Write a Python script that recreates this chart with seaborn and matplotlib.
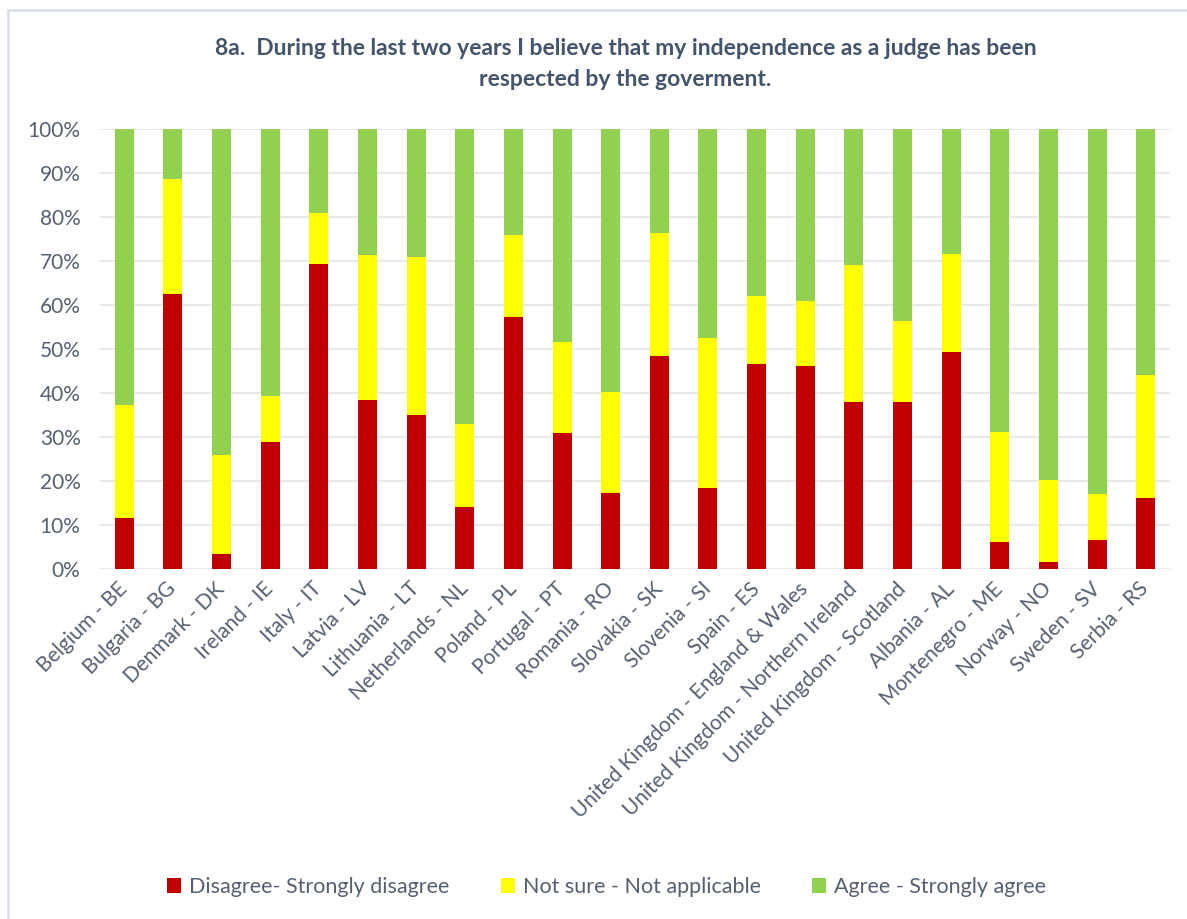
import numpy as np
import pandas as pd
import matplotlib
matplotlib.use("Agg")
import matplotlib.pyplot as plt
from matplotlib.lines import Line2D
from matplotlib.patches import Patch
import seaborn as sns

countries = ["Belgium - BE", "Bulgaria - BG", "Denmark - DK", "Ireland - IE", "Italy - IT",
             "Latvia - LV", "Lithuania - LT", "Netherlands - NL", "Poland - PL", "Portugal - PT",
             "Romania - RO", "Slovakia - SK", "Slovenia - SI", "Spain - ES",
             "United Kingdom - England & Wales", "United Kingdom - Northern Ireland",
             "United Kingdom - Scotland", "Albania - AL", "Montenegro - ME", "Norway - NO",
             "Sweden - SV", "Serbia - RS"]
disagree = [11.7, 62.4, 3.3, 28.9, 69.4, 38.3, 35.1, 14.1, 57.2, 31.0, 17.3, 48.4, 18.4, 46.7,
            46.1, 38.0, 38.0, 49.3, 6.1, 1.6, 6.7, 16.1]
not_sure = [25.6, 26.2, 22.7, 10.5, 11.4, 33.1, 35.7, 18.9, 18.6, 20.7, 22.9, 28.0, 34.1, 15.4,
            14.8, 31.1, 18.3, 22.4, 25.1, 18.6, 10.3, 28.0]
agree = [100 - d - n for d, n in zip(disagree, not_sure)]

series_names = ["Disagree- Strongly disagree", "Not sure - Not applicable", "Agree - Strongly agree"]
colors = ["#C00000", "#FFFF00", "#92D050"]

df = pd.DataFrame({"country": countries, "disagree": disagree, "not_sure": not_sure, "agree": agree})
df["lvl1"] = df["disagree"]
df["lvl2"] = df["disagree"] + df["not_sure"]
df["lvl3"] = df["lvl2"] + df["agree"]

sns.set_theme(style="white")
plt.rcParams["font.family"] = ["Lato", "DejaVu Sans"]

fig = plt.figure(figsize=(11.87, 9.19), dpi=100)
ax = fig.add_axes([100 / 1187, 1 - 569 / 919, 1070 / 1187, 440 / 919])

w = 0.39
for col, c in zip(["lvl3", "lvl2", "lvl1"], [colors[2], colors[1], colors[0]]):
    sns.barplot(data=df, x="country", y=col, color=c, width=w, ax=ax,
                saturation=1, edgecolor="none", linewidth=0)

txt = "#556071"
ax.set_ylim(0, 100)
ax.set_xlim(-0.5, len(countries) - 0.5)
ax.set_yticks(np.arange(0, 101, 10))
ax.set_yticklabels([f"{v}%" for v in range(0, 101, 10)], fontsize=15, color=txt)
ax.set_xticks(range(len(countries)))
ax.set_xticklabels(countries, rotation=45, ha="right", va="center", rotation_mode="anchor",
                   fontsize=15, color=txt)
ax.tick_params(axis="y", length=0, pad=14)
ax.tick_params(axis="x", length=0, pad=12)
ax.set_xlabel("")
ax.set_ylabel("")
ax.yaxis.grid(True, color="#E1E4EA", linewidth=1.2)
ax.set_axisbelow(True)
for s in ax.spines.values():
    s.set_visible(False)

fig.text(0.527, 1 - 64 / 919,
         "8a.  During the last two years I believe that my independence as a judge has been\nrespected by the goverment.",
         ha="center", va="center", fontsize=16.5, fontweight="bold", color="#44546A",
         linespacing=1.6)

handles = [Patch(facecolor=c, edgecolor="none") for c in colors]
fig.legend(handles, series_names, loc="center", bbox_to_anchor=(0.511, 1 - 887 / 919),
           ncol=3, frameon=False, fontsize=15.5, labelcolor=txt, handlelength=0.65,
           handleheight=0.65, handletextpad=0.35, columnspacing=2.4)

fig.add_artist(Line2D([8 / 1187, 1.0], [1 - 10 / 919, 1 - 10 / 919], transform=fig.transFigure,
                      color="#DCE1EA", linewidth=2))
fig.add_artist(Line2D([8 / 1187, 8 / 1187], [0, 1 - 10 / 919], transform=fig.transFigure,
                      color="#DCE1EA", linewidth=2))

fig.savefig("out.png", dpi=100, facecolor="white")
